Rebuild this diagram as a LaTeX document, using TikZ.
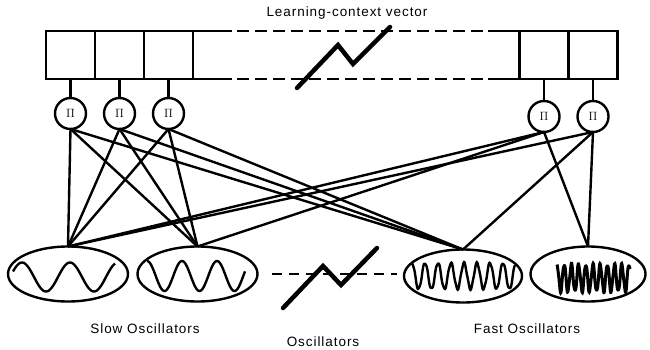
\documentclass[tikz,border=0pt]{standalone}
\usepackage{fontspec}
\usepackage{tikz}
\usetikzlibrary{positioning, shapes.geometric}
\newfontfamily\lblfont[LetterSpace=7]{Liberation Sans}
\definecolor{nInk}{HTML}{000000}

\begin{document}
\begin{tikzpicture}[x=1pt, y=-1pt, line width=2.4pt, draw=nInk,
        cell/.style={draw, rectangle, minimum width=49pt, minimum height=48pt, inner sep=0pt, outer sep=0pt},
        prod/.style={draw, circle, minimum size=31pt, inner sep=0pt, outer sep=0pt, font=\fontsize{12.5}{14}\selectfont},
        osc/.style={draw, ellipse, minimum width=120pt, minimum height=55pt, inner sep=0pt, outer sep=0pt},
        lbl/.style={font=\lblfont\fontsize{13.5}{15}\selectfont, inner sep=0pt},
        gap/.style={dash pattern=on 12pt off 6pt},
        brk/.style={line width=4.5pt, line cap=round}]
      \useasboundingbox (0,0) rectangle (650,350);
      % learning-context vector
      \node[cell] (v1) at (70.5,55) {};
      \node[cell, right=0pt of v1] (v2) {};
      \node[cell, right=0pt of v2] (v3) {};
      \node[cell] (v5) at (593,55) {};
      \node[cell, left=0pt of v5] (v4) {};
      \coordinate (tl) at (232,31);
      \coordinate (bl) at (232,79);
      \coordinate (dtl) at (237,31);
      \coordinate (dbl) at (237,79);
      \coordinate (dtr) at (484,31);
      \coordinate (dbr) at (484,79);
      \coordinate (tr) at (488,31);
      \coordinate (br) at (488,79);
      \draw (v3.north east) -- (tl);
      \draw (v3.south east) -- (bl);
      \draw[gap] (dtl) -- (dtr);
      \draw[gap] (dbl) -- (dbr);
      \draw (tr) -- (v4.north west);
      \draw (br) -- (v4.south west);
      \draw[brk] (297,88) -- (338,45) -- (353,64) -- (390,27);
      \node[lbl] (title) at (347,13) {Learning-context vector};
      % product units
      \foreach \i in {1,2,3} {
        \node[prod, below=19pt of v\i] (p\i) {$\Pi$};
        \draw (v\i.south) -- (p\i.north);
      }
      \foreach \i in {4,5} {
        \node[prod, below=22pt of v\i] (p\i) {$\Pi$};
        \draw (v\i.south) -- (p\i.north);
      }
      % oscillators
      \node[osc] (e1) at (68,274) {};
      \node[osc] (e2) at (197.5,274) {};
      \node[osc, minimum width=118pt, minimum height=53pt] (e3) at (463,276) {};
      \node[osc, minimum width=115pt] (e4) at (588,274) {};
      \draw plot[domain=13:115, samples=120, smooth] (\x, {277-14.5*cos(7.5*(\x-22))});
      \draw plot[domain=147:245, samples=140, smooth] (\x, {276-15*cos(10.2857*(\x-147))});
      \draw plot[domain=412:515, samples=260, smooth] (\x, {276-13*cos(27.69*(\x-412))+1*sin(87.8*(\x-412))});
      \draw[line width=3pt] plot[domain=557:630, samples=300, smooth] (\x, {278-13.5*cos(50*(\x-557))+1.5*sin(116.1*(\x-557))});
      \coordinate (ml) at (272,274);
      \coordinate (mr) at (397,274);
      \draw[dash pattern=on 10pt off 7pt] (ml) -- (mr);
      \draw[brk] (283,308) -- (323,266) -- (341,285) -- (377,248);
      % connections
      \foreach \a/\b in {1/1,1/2,1/3,2/1,2/2,2/3,3/1,3/2,3/3,4/1,4/2,4/4,5/1,5/3,5/4}
        \draw (p\a.south) -- (e\b.north);
      \node[lbl] (slow) at (145,329) {Slow Oscillators};
      \node[lbl] (mid) at (323,342) {Oscillators};
      \node[lbl] (fast) at (527,329) {Fast Oscillators};
    \end{tikzpicture}
\end{document}
